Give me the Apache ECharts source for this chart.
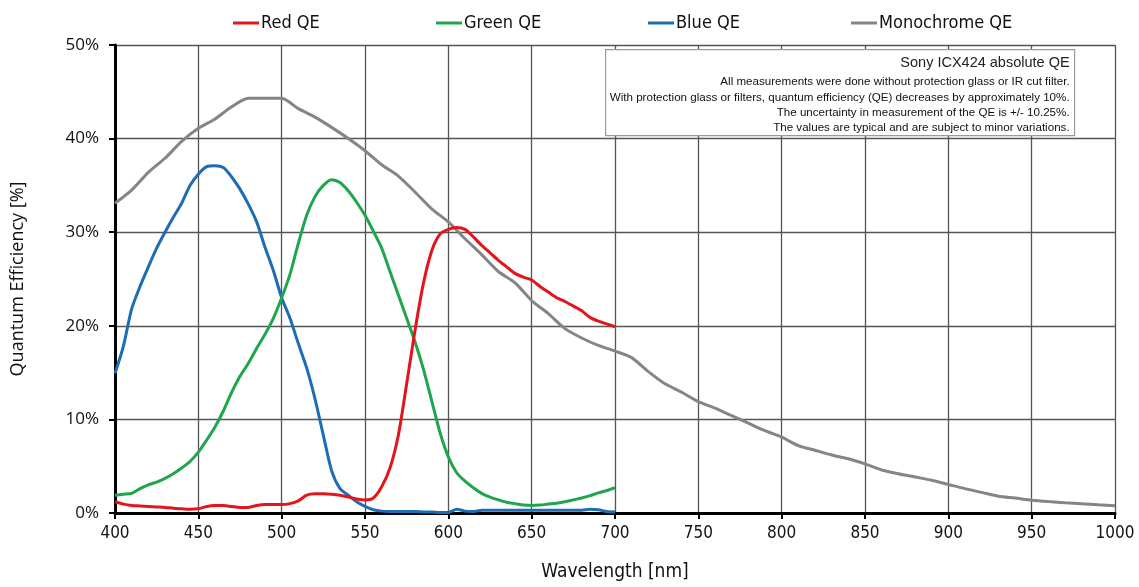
<!DOCTYPE html>
<html>
<head>
<meta charset="utf-8">
<script src="https://cdn.jsdelivr.net/npm/echarts@6/dist/echarts.min.js"></script>
<style>
html,body{margin:0;padding:0;background:#fff;}
#chart{width:1139px;height:587px;}
</style>
</head>
<body>
<div id="chart"></div>
<script>
// ---- Data ----
const wavelengthsRGB = [400,405,410,415,420,425,430,435,440,445,450,455,460,465,470,475,480,485,490,495,500,505,510,515,520,525,530,535,540,545,550,555,560,565,570,575,580,585,590,595,600,605,610,615,620,625,630,635,640,645,650,655,660,665,670,675,680,685,690,695,700];
const redQE = [1.2,0.95,0.8,0.75,0.7,0.65,0.6,0.5,0.45,0.4,0.45,0.7,0.8,0.8,0.7,0.6,0.6,0.8,0.9,0.9,0.9,1.0,1.3,1.9,2.05,2.05,2.0,1.9,1.7,1.5,1.4,1.6,2.8,4.8,8.3,13.8,19.5,24.5,28.0,29.8,30.3,30.5,30.3,29.5,28.6,27.8,27.0,26.3,25.6,25.2,24.9,24.2,23.6,23.0,22.6,22.1,21.6,20.9,20.5,20.2,19.9];
const greenQE = [1.9,2.0,2.1,2.6,3.0,3.3,3.7,4.2,4.8,5.5,6.5,7.8,9.2,10.9,12.9,14.6,16.0,17.6,19.1,20.8,23.0,25.5,28.8,31.8,33.8,35.0,35.6,35.3,34.4,33.2,31.8,30.1,28.3,25.8,23.3,20.8,18.3,15.4,12.0,8.6,6.0,4.3,3.4,2.7,2.1,1.7,1.4,1.15,1.0,0.85,0.8,0.85,0.95,1.05,1.2,1.4,1.6,1.85,2.15,2.4,2.7];
const blueQE = [14.9,17.8,21.8,24.2,26.3,28.3,30.0,31.6,33.1,35.0,36.2,37.0,37.1,36.9,35.9,34.6,33.0,31.1,28.4,25.9,23.0,20.8,18.1,15.5,12.2,8.3,4.5,2.6,1.9,1.2,0.7,0.35,0.2,0.15,0.15,0.15,0.15,0.12,0.1,0.05,0.05,0.4,0.2,0.15,0.3,0.3,0.3,0.3,0.3,0.3,0.3,0.3,0.3,0.3,0.3,0.3,0.3,0.4,0.35,0.15,0.1];
const wavelengthsMono = [400,410,420,430,440,450,460,470,480,490,500,510,520,530,540,550,560,570,580,590,600,610,620,630,640,650,660,670,680,690,700,710,720,730,740,750,760,770,780,790,800,810,820,830,840,850,860,870,880,890,900,910,920,930,940,950,960,970,980,990,1000];
const monoQE = [33.1,34.5,36.4,37.9,39.7,41.1,42.1,43.4,44.3,44.3,44.3,43.2,42.3,41.2,40.0,38.7,37.2,36.0,34.3,32.5,31.1,29.3,27.6,25.8,24.6,22.7,21.3,19.7,18.7,17.9,17.3,16.6,15.1,13.8,12.9,11.9,11.2,10.4,9.6,8.8,8.1,7.2,6.7,6.2,5.8,5.25,4.6,4.2,3.85,3.5,3.05,2.6,2.2,1.8,1.6,1.37,1.22,1.1,1.0,0.88,0.77];
const seriesNames = ['Red QE','Green QE','Blue QE','Monochrome QE'];
const xTicks = [400,450,500,550,600,650,700,750,800,850,900,950,1000];
const yTicks = [0,10,20,30,40,50];
const noteTitle = 'Sony ICX424 absolute QE';
const noteLines = [
  'All measurements were done without protection glass or IR cut filter.',
  'With protection glass or filters, quantum efficiency (QE) decreases by approximately 10%.',
  'The uncertainty in measurement of the QE is +/- 10.25%.',
  'The values are typical and are subject to minor variations.'
];

// ---- Build ----
const colors = ['#e3151c','#1fa64c','#1d6cb4','#858585'];
function pairs(xs, ys){ return xs.map((x,i)=>[x, ys[i]]); }
const seriesData = [
  pairs(wavelengthsRGB, redQE),
  pairs(wavelengthsRGB, greenQE),
  pairs(wavelengthsRGB, blueQE),
  pairs(wavelengthsMono, monoQE)
];
const narrow = "'Liberation Sans Narrow','DejaVu Sans Condensed',sans-serif";
const legendLefts = [228, 431, 643, 846];

const chart = echarts.init(document.getElementById('chart'), null, {renderer:'canvas'});
const option = {
  animation:false,
  backgroundColor:'#fff',
  grid:{left:115, right:24, top:45, bottom:69, containLabel:false},
  legend: seriesNames.map((n,i)=>({
    data:[n], left:legendLefts[i], top:9, icon:'rect', itemWidth:26, itemHeight:3, itemGap:0,
    textStyle:{fontFamily:narrow, fontSize:18, color:'#111', padding:[0,0,0,-3]}
  })),
  xAxis:{
    type:'value', min:xTicks[0], max:xTicks[xTicks.length-1], interval:50,
    name:'Wavelength [nm]', nameLocation:'middle', nameGap:50,
    nameTextStyle:{fontFamily:narrow, fontSize:19, color:'#111'},
    axisLine:{show:true, onZero:false, lineStyle:{color:'#000', width:3}},
    axisTick:{show:true, length:6, lineStyle:{color:'#000', width:2}},
    axisLabel:{fontFamily:narrow, fontSize:17, color:'#111', margin:12, formatter:(v)=>String(v)},
    splitLine:{show:true, lineStyle:{color:'#555', width:1.3}}
  },
  yAxis:{
    type:'value', min:yTicks[0], max:yTicks[yTicks.length-1], interval:10,
    name:'Quantum Efficiency [%]', nameLocation:'middle', nameGap:88,
    nameTextStyle:{fontFamily:"'Open Sans',sans-serif", fontSize:18, color:'#111'},
    axisLine:{show:true, lineStyle:{color:'#000', width:3}},
    axisTick:{show:true, length:6, lineStyle:{color:'#000', width:2}},
    axisLabel:{fontFamily:"'Open Sans',sans-serif", fontSize:17, color:'#111', margin:16, formatter:'{value}%'},
    splitLine:{show:true, lineStyle:{color:'#555', width:1.3}}
  },
  series: seriesNames.map((n,i)=>({
    name:n, type:'line', data:seriesData[i], showSymbol:false, smooth:0.25,
    lineStyle:{color:colors[i], width:3}, itemStyle:{color:colors[i]}, z:10-i
  })),
  graphic:[{
    type:'group', left:605, top:49, silent:true, z:100,
    children:[
      {type:'rect', z:100, shape:{x:0,y:0,width:469,height:86}, style:{fill:'#fff', stroke:'#9a9a9a', lineWidth:1.2}},
      {type:'text', z:101, x:464, y:13, style:{text:noteTitle, textAlign:'right', textVerticalAlign:'middle', font:"14.5px 'Liberation Sans',sans-serif", fill:'#222'}},
      ...noteLines.map((t,i)=>({type:'text', z:101, x:464, y:32.5+i*15.2, style:{text:t, textAlign:'right', textVerticalAlign:'middle', font:"11.6px 'Liberation Sans',sans-serif", fill:'#111'}}))
    ]
  }]
};
chart.setOption(option);
</script>
</body>
</html>
